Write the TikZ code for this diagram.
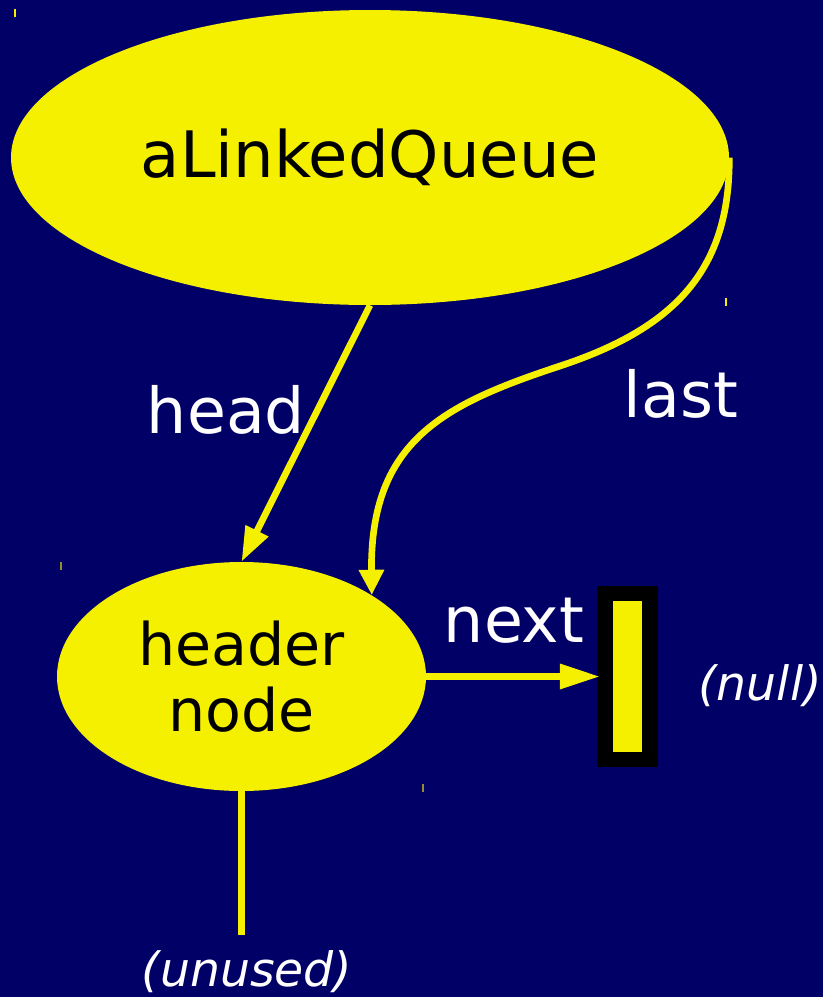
\documentclass[tikz,border=0pt]{standalone}
\usepackage{fontspec}
\setmainfont{DejaVu Sans}[ItalicFont={DejaVu Sans Oblique}]
\usetikzlibrary{shapes.geometric,arrows.meta}
\definecolor{bgnavy}{RGB}{0,0,102}
\definecolor{qyellow}{RGB}{245,239,0}
\begin{document}
\begin{tikzpicture}[x=0.75pt,y=-0.75pt,
  blob/.style={ellipse, fill=qyellow, inner sep=0pt, text=black, align=center},
  link/.style={draw=qyellow, line width=5pt},
  lbl/.style={text=white, font=\fontsize{47.5}{56}\selectfont, inner sep=0pt},
  note/.style={text=white, font=\itshape\fontsize{35.5}{42}\selectfont, inner sep=0pt},
  tickmark/.style={line width=1.5pt}]
\fill[bgnavy] (0,0) rectangle (823,997);
\useasboundingbox (0,0) rectangle (823,997);
% nodes
\node[blob, minimum width=538.5pt, minimum height=221.25pt,
      font=\fontsize{48}{56}\selectfont] (queue) at (370,157.5) {aLinkedQueue};
\node[blob, minimum width=276.75pt, minimum height=171.75pt,
      font=\fontsize{44}{50}\selectfont] (header) at (241.5,676.5) {header\\node};
\node[draw=black, fill=qyellow, line width=11.6pt, minimum width=33.75pt,
      minimum height=124.5pt, inner sep=0pt] (nullbox) at (627.4,676.5) {};
\coordinate (unusedend) at (241.5,935);
% labels
\node[lbl] (headlbl) at (226,410) {head};
\node[lbl] (lastlbl) at (681,394) {last};
\node[lbl] (nextlbl) at (514,621) {next};
\node[note] (nulllbl) at (760,686) {(null)};
\node[note] (unusedlbl) at (247,972) {(unused)};
% connectors
\draw[link, -{Triangle[length=26pt,width=18pt]}] (queue.south) -- (header.north);
\draw[link, -{Triangle[length=19pt,width=18pt]}] (queue.east)
  .. controls (730,270) and (675,328) .. (560,366)
  .. controls (445,404) and (370,440) .. (header.32);
\draw[link, shorten >=-2pt, -{Triangle[length=30pt,width=18pt]}] (header.east) -- (nullbox.west);
\draw[link] (header.south) -- (unusedend);
% selection ticks
\draw[tickmark, qyellow] (15,9) -- (15,17);
\draw[tickmark, qyellow] (726,298) -- (726,306);
\draw[tickmark, qyellow!60!bgnavy] (61,562) -- (61,570);
\draw[tickmark, qyellow!60!bgnavy] (423,784) -- (423,792);
\end{tikzpicture}
\end{document}
